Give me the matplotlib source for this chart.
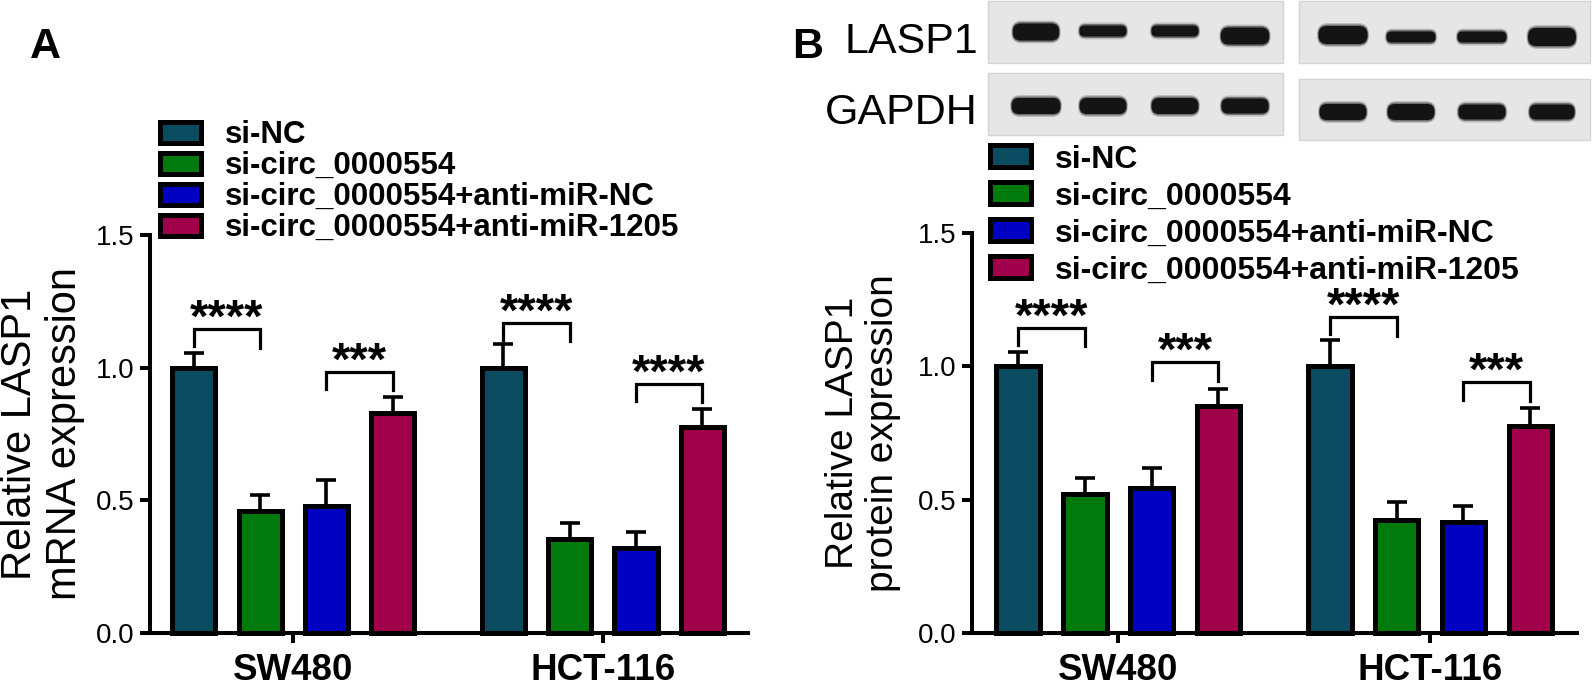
import matplotlib
matplotlib.use("Agg")
import matplotlib.pyplot as plt
from matplotlib.patches import Rectangle, FancyBboxPatch

plt.rcParams['font.family'] = ['Liberation Sans', 'DejaVu Sans']

# ---------------- data ----------------
groups = ['SW480', 'HCT-116']
conditions = ['si-NC', 'si-circ_0000554', 'si-circ_0000554+anti-miR-NC',
              'si-circ_0000554+anti-miR-1205']
colors = ['#0A4B5F', '#007A0C', '#0000C2', '#A0004A']

mrna_sw480 = [1.00, 0.46, 0.48, 0.83]
mrna_sw480_sd = [0.055, 0.06, 0.095, 0.06]
mrna_hct116 = [1.00, 0.355, 0.32, 0.775]
mrna_hct116_sd = [0.09, 0.06, 0.06, 0.07]

protein_sw480 = [1.00, 0.52, 0.545, 0.85]
protein_sw480_sd = [0.055, 0.06, 0.075, 0.065]
protein_hct116 = [1.00, 0.425, 0.415, 0.775]
protein_hct116_sd = [0.10, 0.065, 0.06, 0.07]

# significance: (bar i, bar j, label, bracket height)
mrna_sig = [(0, 1, '****', 1.145), (2, 3, '***', 0.985),
            (4, 5, '****', 1.17), (6, 7, '****', 0.94)]
protein_sig = [(0, 1, '****', 1.145), (2, 3, '***', 1.015),
               (4, 5, '****', 1.185), (6, 7, '***', 0.94)]

yticks = [0.0, 0.5, 1.0, 1.5]

# ---------------- figure ----------------
W, H = 1594, 687
fig = plt.figure(figsize=(W / 100, H / 100), dpi=100)

def axes_px(left, right, top, bottom):
    return [left / W, 1 - bottom / H, (right - left) / W, (bottom - top) / H]

group_gap = 1.67
positions = [g * (4 + group_gap - 1) + k for g in range(2) for k in range(4)]
group_centers = [g * (4 + group_gap - 1) + 1.5 for g in range(2)]

def draw_panel(ax, vals, sds, sig, ylabel, xlim, ylab_x, ylab_size):
    means = vals[0] + vals[1]
    errs = sds[0] + sds[1]
    cols = colors * 2
    ax.errorbar(positions, means, yerr=[[0] * len(errs), errs], fmt='none',
                ecolor='black', elinewidth=2.6, capsize=7.5, capthick=2.6,
                zorder=1)
    ax.bar(positions, means, width=0.65, color=cols, edgecolor='black',
           linewidth=3.6, zorder=2, clip_on=False)
    ax.set_xlim(*xlim)
    ax.set_ylim(0, 1.5)
    ax.set_yticks(yticks)
    ax.set_yticklabels([f'{t:.1f}' for t in yticks])
    ax.set_xticks(group_centers)
    ax.set_xticklabels(groups, fontweight='bold', fontsize=26.5)
    for s in ['top', 'right']:
        ax.spines[s].set_visible(False)
    for s in ['left', 'bottom']:
        ax.spines[s].set_linewidth(2.9)
    ax.tick_params(axis='y', direction='out', length=7.5, width=2.9,
                   labelsize=20, pad=4)
    ax.tick_params(axis='x', direction='out', length=7.5, width=2.9, pad=7)
    ax.set_ylabel(ylabel, fontsize=ylab_size, va='center', linespacing=1.15)
    ax.yaxis.set_label_coords(ylab_x, 0.5)
    ax.patch.set_alpha(0)
    for i, j, lab, yb in sig:
        xi, xj = positions[i], positions[j]
        ax.plot([xi, xi, xj, xj], [yb - 0.065, yb, yb, yb - 0.07],
                color='black', lw=2.3, solid_joinstyle='miter', clip_on=False)
        ax.annotate(lab, xy=((xi + xj) / 2, yb), xytext=(0, -2),
                    textcoords='offset points', ha='center', va='baseline',
                    fontsize=34, fontweight='bold', annotation_clip=False)

axA = fig.add_axes(axes_px(150, 748, 235, 633))
draw_panel(axA, [mrna_sw480, mrna_hct116], [mrna_sw480_sd, mrna_hct116_sd],
           mrna_sig, 'Relative LASP1\nmRNA expression', (-0.66, 8.36),
           -0.18, 30)

axB = fig.add_axes(axes_px(972, 1577, 233, 633))
draw_panel(axB, [protein_sw480, protein_hct116],
           [protein_sw480_sd, protein_hct116_sd],
           protein_sig, 'Relative LASP1\nprotein expression', (-0.69, 8.37),
           -0.18, 28)

# ---------------- overlay (legends, labels, blot) ----------------
ov = fig.add_axes([0, 0, 1, 1], zorder=10)
ov.set_xlim(0, W)
ov.set_ylim(H, 0)
ov.axis('off')
ov.patch.set_alpha(0)

def draw_legend(x0, y0, dy, bw, bh, tx, fs):
    for k, (lab, c) in enumerate(zip(conditions, colors)):
        yc = y0 + k * dy
        ov.add_patch(Rectangle((x0, yc - bh / 2), bw, bh, facecolor=c,
                               edgecolor='black', lw=3.6))
        ov.text(tx, yc + 0.36 * fs / 0.72, lab, ha='left', va='baseline',
                fontsize=fs, fontweight='bold')

draw_legend(160, 132, 31, 41, 21, 225, 22.5)
draw_legend(990, 156, 37, 41, 22, 1055, 23)

ov.text(30, 58, 'A', fontsize=31, fontweight='bold', ha='left', va='baseline')
ov.text(792, 58, 'B', fontsize=31, fontweight='bold', ha='left', va='baseline')

# western blot
ov.text(978, 53, 'LASP1', fontsize=31, ha='right', va='baseline')
ov.text(978, 124, 'GAPDH', fontsize=31, ha='right', va='baseline')

strips = [  # (x0, x1, y0, y1)
    (988, 1283, 1, 63), (1299, 1590, 1, 63),
    (988, 1283, 73, 135), (1299, 1590, 79, 140)]
for (x0, x1, y0, y1) in strips:
    ov.add_patch(Rectangle((x0, y0), x1 - x0, y1 - y0, facecolor='#e6e6e6',
                           edgecolor='#d4d4d4', lw=1))

lane_lasp1_left = [(1036, 32, 54, 17), (1103, 31, 52, 11), (1175, 31, 52, 11), (1245, 36, 56, 17)]
lane_lasp1_right = [(1343, 35, 57, 18), (1411, 37, 54, 11), (1482, 37, 54, 11), (1552, 37, 56, 18)]
lane_gapdh_left = [(1036, 106, 56, 16), (1103, 106, 54, 16), (1175, 106, 54, 16), (1245, 106, 54, 15)]
lane_gapdh_right = [(1343, 112, 54, 16), (1411, 112, 54, 16), (1482, 112, 54, 15), (1552, 112, 52, 15)]
for lanes in [lane_lasp1_left, lane_lasp1_right, lane_gapdh_left, lane_gapdh_right]:
    for (cx, cy, w, h) in lanes:
        for grow, alpha in [(6, 0.2), (3, 0.45), (0, 1.0)]:
            ww, hh = w + grow, h + grow
            r = hh / 2.2
            ov.add_patch(FancyBboxPatch((cx - ww / 2 + r, cy - hh / 2 + r * 0.5),
                                        ww - 2 * r, hh - r,
                                        boxstyle=f'round,pad={r * 0.5},rounding_size={r}',
                                        facecolor='#141414', edgecolor='none',
                                        alpha=alpha, mutation_aspect=1))

fig.savefig('out.png', dpi=100)
